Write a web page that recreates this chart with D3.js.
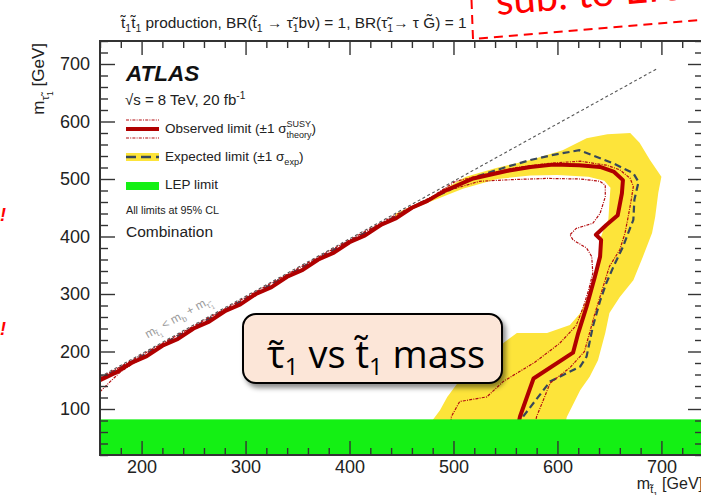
<!DOCTYPE html>
<html>
<head>
<meta charset="utf-8">
<script src="https://cdn.jsdelivr.net/npm/d3@7"></script>
<style>
  body { margin: 0; background: #fff; }
  svg { display: block; font-family: "Liberation Sans", Arial, sans-serif; }
</style>
</head>
<body>
<svg id="chart" width="701" height="495"></svg>
<script>
// axis ticks (GeV)
const xTicks = [200, 300, 400, 500, 600, 700];
const yTicks = [100, 200, 300, 400, 500, 600, 700];

// kinematic boundary m(stop) = m(b) + m(stau)
const diagX = [160, 697];
const diagY = [156, 693];

// LEP stau limit
const lepY = 82;

// observed limit
const obsX = [160, 175, 190, 205, 220, 235, 250, 265, 280, 295, 310, 325, 340, 355, 370, 385, 400, 415, 430, 445, 460, 475, 490, 505, 519, 551, 574, 596, 621, 641, 654, 663, 662, 658, 647, 637, 642, 641, 636, 628, 620, 615, 577, 564, 562];
const obsY = [150, 163, 180, 192, 210, 222, 240, 252, 270, 282, 300, 312, 330, 342, 360, 372, 390, 402, 420, 432, 450, 462, 478, 490, 501, 514, 521, 525, 524, 521, 513, 498, 475, 437, 420, 403, 394, 365, 330, 278, 232, 198, 153, 87, 70];

// observed +1 sigma(theory)
const obsUpX = [160, 200, 250, 300, 350, 400, 450, 480, 502, 557, 590, 622, 647, 660, 670, 673, 671, 668, 665, 660, 650, 644, 636, 629, 626, 612, 593, 580, 578];
const obsUpY = [154, 194, 244, 294, 344, 394, 443, 470, 496, 519, 527, 531, 524, 516, 501, 487, 464, 434, 406, 377, 348, 313, 266, 220, 200, 172, 145, 87, 70];

// observed -1 sigma(theory)
const obsDnX = [160, 170, 180, 190, 220, 260, 300, 340, 380, 420, 460, 493, 525, 557, 590, 622, 641, 646, 646, 641, 634, 618, 612, 615, 628, 633, 634, 630, 625, 618, 602, 578, 548, 532, 506, 498, 497];
const obsDnY = [130, 148, 165, 177, 208, 248, 288, 328, 368, 408, 448, 479, 496, 499, 501, 500, 496, 489, 469, 440, 423, 414, 403, 394, 380, 365, 336, 307, 278, 245, 214, 181, 148, 121, 113, 87, 70];

// expected limit
const expX = [160, 200, 250, 300, 350, 400, 440, 470, 493, 520, 551, 574, 596, 621, 654, 673, 678, 674, 673, 668, 663, 654, 647, 641, 634, 628, 622, 593, 567, 565];
const expY = [152, 192, 242, 292, 342, 392, 431, 460, 478, 503, 521, 533, 542, 550, 527, 510, 495, 464, 429, 406, 382, 348, 319, 288, 243, 191, 174, 148, 87, 70];

// expected +-1 sigma band (closed outline)
const bandX = [480, 480, 487, 494, 506, 525, 548, 561, 590, 612, 622, 628, 634, 638, 640, 640, 644, 649, 650, 651, 645, 630, 600, 574, 542, 509, 477, 443,
               445, 477, 512, 541, 574, 605, 628, 648, 670, 679, 689, 700, 697, 694, 691, 682, 673, 660, 650, 646, 639, 631, 622, 609, 607];
const bandY = [70, 81, 98, 121, 150, 173, 215, 232, 232, 246, 267, 290, 316, 342, 368, 390, 410, 430, 460, 485, 497, 504, 507, 506, 500, 483, 460, 434,
               440, 468, 504, 519, 533, 550, 571, 578, 580, 563, 533, 504, 476, 434, 406, 364, 324, 295, 267, 232, 185, 156, 133, 86, 70];

const W = 701, H = 495;
const svg = d3.select('#chart');

const x = d3.scaleLinear().domain([160, 740]).range([100, 703]);
const y = d3.scaleLinear().domain([20, 740]).range([455, 41]);

const defs = svg.append('defs');
defs.append('clipPath').attr('id', 'plot-clip')
  .append('rect').attr('x', 100).attr('y', 41).attr('width', 603).attr('height', 414);
const sh = defs.append('filter').attr('id', 'shadow').attr('x', '-10%').attr('y', '-10%').attr('width', '130%').attr('height', '140%');
sh.append('feDropShadow').attr('dx', 3).attr('dy', 4).attr('stdDeviation', 2.5).attr('flood-color', '#000').attr('flood-opacity', 0.45);

// text with sub/superscripts
function rich(sel, parts, size) {
  let cur = 0;
  parts.forEach(([txt, k]) => {
    const off = k === 'sub' ? 0.28 : k === 'sup' ? -0.4 : k === 'ss' ? 0.5 : 0;
    const fs = (k === 'sub' || k === 'sup') ? 0.68 : k === 'ss' ? 0.5 : 1;
    sel.append('tspan').attr('dy', (off - cur) * size).attr('font-size', size * fs).text(txt);
    cur = off;
  });
  return sel;
}

const T = '\u0303'; // combining tilde
const zip = (a, b) => a.map((v, i) => [v, b[i]]);
const line = d3.line().x(d => x(d[0])).y(d => y(d[1]));

const plot = svg.append('g').attr('clip-path', 'url(#plot-clip)');

// yellow band
plot.append('path')
  .datum(zip(bandX, bandY))
  .attr('d', line.curve(d3.curveLinearClosed))
  .attr('fill', '#fde43a');
line.curve(d3.curveLinear);

// diagonal
plot.append('path')
  .datum(zip(diagX, diagY))
  .attr('d', line)
  .attr('fill', 'none').attr('stroke', '#555').attr('stroke-width', 1.1)
  .attr('stroke-dasharray', '3,2.5');

// expected
plot.append('path')
  .datum(zip(expX, expY))
  .attr('d', line)
  .attr('fill', 'none').attr('stroke', '#37475a').attr('stroke-width', 2.2)
  .attr('stroke-dasharray', '7,4');

// observed +-1 sigma
[[obsUpX, obsUpY], [obsDnX, obsDnY]].forEach(([a, b]) => {
  plot.append('path')
    .datum(zip(a, b))
    .attr('d', line)
    .attr('fill', 'none').attr('stroke', '#b30d10').attr('stroke-width', 1.2)
    .attr('stroke-dasharray', '3,1.2,1,1.2');
});

// observed
plot.append('path')
  .datum(zip(obsX, obsY))
  .attr('d', line)
  .attr('fill', 'none').attr('stroke', '#b00000').attr('stroke-width', 4)
  .attr('stroke-linejoin', 'round');

// LEP
plot.append('rect')
  .attr('x', x(160)).attr('y', y(lepY))
  .attr('width', x(740) - x(160)).attr('height', y(20) - y(lepY))
  .attr('fill', '#14f014');

// axes
const minorX = d3.range(160, 741, 20).filter(v => v % 100 !== 0);
const minorY = d3.range(20, 741, 20).filter(v => v % 100 !== 0);
const axisStyle = g => {
  g.select('.domain').remove();
  g.selectAll('line').attr('stroke', '#333').attr('stroke-width', 1.4);
  g.selectAll('text').attr('font-size', 18).attr('fill', '#222')
    .attr('font-family', '"Liberation Sans", Arial, sans-serif');
};
svg.append('g').attr('transform', 'translate(0,455)')
  .call(d3.axisBottom(x).tickValues(xTicks).tickSize(-14).tickPadding(5)).call(axisStyle);
svg.append('g').attr('transform', 'translate(0,455)')
  .call(d3.axisBottom(x).tickValues(minorX).tickSize(-7).tickFormat('')).call(axisStyle);
svg.append('g').attr('transform', 'translate(0,41)')
  .call(d3.axisTop(x).tickValues(xTicks).tickSize(-14).tickFormat('')).call(axisStyle);
svg.append('g').attr('transform', 'translate(0,41)')
  .call(d3.axisTop(x).tickValues(minorX).tickSize(-7).tickFormat('')).call(axisStyle);
svg.append('g').attr('transform', 'translate(100,0)')
  .call(d3.axisLeft(y).tickValues(yTicks).tickSize(-15).tickPadding(10)).call(axisStyle);
svg.append('g').attr('transform', 'translate(100,0)')
  .call(d3.axisLeft(y).tickValues(minorY).tickSize(-8).tickFormat('')).call(axisStyle);
svg.append('g').attr('transform', 'translate(703,0)')
  .call(d3.axisRight(y).tickValues(yTicks).tickSize(-15).tickFormat('')).call(axisStyle);
svg.append('g').attr('transform', 'translate(703,0)')
  .call(d3.axisRight(y).tickValues(minorY).tickSize(-8).tickFormat('')).call(axisStyle);

svg.append('rect').attr('x', 100).attr('y', 41).attr('width', 603).attr('height', 414)
  .attr('fill', 'none').attr('stroke', '#333').attr('stroke-width', 2);

// axis titles
rich(svg.append('text').attr('x', 703).attr('y', 489).attr('text-anchor', 'end').attr('fill', '#222'),
  [['m'], ['t' + T, 'sub'], ['1', 'ss'], [' [GeV]']], 16);
rich(svg.append('text').attr('transform', 'translate(44,43) rotate(-90)').attr('text-anchor', 'end').attr('fill', '#222'),
  [['m'], ['\u03c4' + T, 'sub'], ['1', 'ss'], [' [GeV]']], 17);

// title, fitted to its width in the reference
const title = rich(svg.append('text').attr('x', 121).attr('y', 28).attr('fill', '#222'),
  [['t' + T], ['1', 'sub'], ['t' + T], ['1', 'sub'], [' production, BR('], ['t' + T], ['1', 'sub'], [' \u2192 '],
   ['\u03c4' + T], ['1', 'sub'], ['b\u03bd) = 1, BR('], ['\u03c4' + T], ['1', 'sub'], ['\u2192 \u03c4 '], ['G' + T], [') = 1']], 13);
const tw = title.node().getComputedTextLength();
title.selectAll('tspan').remove();
rich(title, [['t' + T], ['1', 'sub'], ['t' + T], ['1', 'sub'], [' production, BR('], ['t' + T], ['1', 'sub'], [' \u2192 '],
   ['\u03c4' + T], ['1', 'sub'], ['b\u03bd) = 1, BR('], ['\u03c4' + T], ['1', 'sub'], ['\u2192 \u03c4 '], ['G' + T], [') = 1']],
   13 * 346 / tw);

// diagonal label
const dAng = Math.atan2(y(diagY[0]) - y(diagY[1]), x(diagX[1]) - x(diagX[0])) * 180 / Math.PI;
rich(svg.append('text')
    .attr('transform', `translate(${x(237)},${y(233) - 12}) rotate(${-dAng})`)
    .attr('text-anchor', 'middle').attr('fill', '#9a9a9a'),
  [['m'], ['t' + T, 'sub'], ['1', 'ss'], [' < m'], ['b', 'sub'], [' + m'], ['\u03c4' + T, 'sub'], ['1', 'ss']], 12);

// legend
const lg = svg.append('g');
lg.append('text').attr('x', 126).attr('y', 81).attr('font-size', 22.5)
  .attr('font-weight', 'bold').attr('font-style', 'italic').attr('fill', '#111').text('ATLAS');
rich(lg.append('text').attr('x', 125).attr('y', 105).attr('fill', '#222'),
  [['\u221as = 8 TeV, 20 fb'], ['-1', 'sup']], 15);

lg.append('line').attr('x1', 126).attr('x2', 159).attr('y1', 129).attr('y2', 129)
  .attr('stroke', '#b00000').attr('stroke-width', 4);
[120, 138].forEach(v => lg.append('line').attr('x1', 126).attr('x2', 159).attr('y1', v).attr('y2', v)
  .attr('stroke', '#b30d10').attr('stroke-width', 1.2).attr('stroke-dasharray', '3,1.2,1,1.2'));
const obsTxt = lg.append('text').attr('x', 165).attr('y', 133).attr('fill', '#222').attr('font-size', 13.5);
obsTxt.append('tspan').text('Observed limit (\u00b11 \u03c3');
const susy = obsTxt.append('tspan').attr('dy', -6).attr('font-size', 9).text('SUSY');
const wS = susy.node().getComputedTextLength();
const theory = obsTxt.append('tspan').attr('dx', -wS).attr('dy', 11).attr('font-size', 9).text('theory');
const wT = theory.node().getComputedTextLength();
obsTxt.append('tspan').attr('dx', Math.max(0, wS - wT)).attr('dy', -5).text(')');

lg.append('rect').attr('x', 126).attr('y', 153).attr('width', 33).attr('height', 8).attr('fill', '#fde43a');
lg.append('line').attr('x1', 126).attr('x2', 159).attr('y1', 157).attr('y2', 157)
  .attr('stroke', '#37475a').attr('stroke-width', 2.4).attr('stroke-dasharray', '10,5');
rich(lg.append('text').attr('x', 165).attr('y', 161).attr('fill', '#222'),
  [['Expected limit (\u00b11 \u03c3'], ['exp', 'sub'], [')']], 13.5);

lg.append('rect').attr('x', 126).attr('y', 182).attr('width', 33).attr('height', 8).attr('fill', '#14f014');
lg.append('text').attr('x', 165).attr('y', 189).attr('font-size', 13.5).attr('fill', '#222').text('LEP limit');
lg.append('text').attr('x', 126).attr('y', 214).attr('font-size', 10.8).attr('fill', '#222').text('All limits at 95% CL');
lg.append('text').attr('x', 126).attr('y', 237).attr('font-size', 15.5).attr('fill', '#222').text('Combination');

// slide call-out
svg.append('rect').attr('x', 243).attr('y', 314).attr('width', 259).attr('height', 69).attr('rx', 13)
  .attr('fill', '#fce6d8').attr('stroke', '#000').attr('stroke-width', 2).attr('filter', 'url(#shadow)');
const call = svg.append('text').attr('x', 376).attr('y', 368).attr('text-anchor', 'middle')
  .attr('font-family', '"Open Sans", sans-serif').attr('fill', '#000');
[['\u03c4' + T, 0, 38], ['1', 7, 24], [' vs t' + T, -7, 38], ['1', 7, 24], [' mass', -7, 38]].forEach(([t, dy, fs]) => {
  call.append('tspan').attr('dy', dy).attr('font-size', fs).text(t);
});

// slide annotation, top right
svg.append('path').attr('d', 'M471.5,0 L473,39 L705,19.5')
  .attr('fill', 'none').attr('stroke', '#ff0000').attr('stroke-width', 2).attr('stroke-dasharray', '9,6');
svg.append('text').attr('transform', 'translate(497,15) rotate(-4.8)')
  .attr('font-family', 'Lato, "Open Sans", sans-serif').attr('font-size', 40).attr('fill', '#ff0000')
  .text('sub. to EPJC');
[221, 335].forEach(v => svg.append('text').attr('x', 6).attr('y', v).attr('text-anchor', 'end')
  .attr('font-size', 18).attr('font-weight', 'bold').attr('font-style', 'italic').attr('fill', '#ff0000').text('!'));
</script>
</body>
</html>
